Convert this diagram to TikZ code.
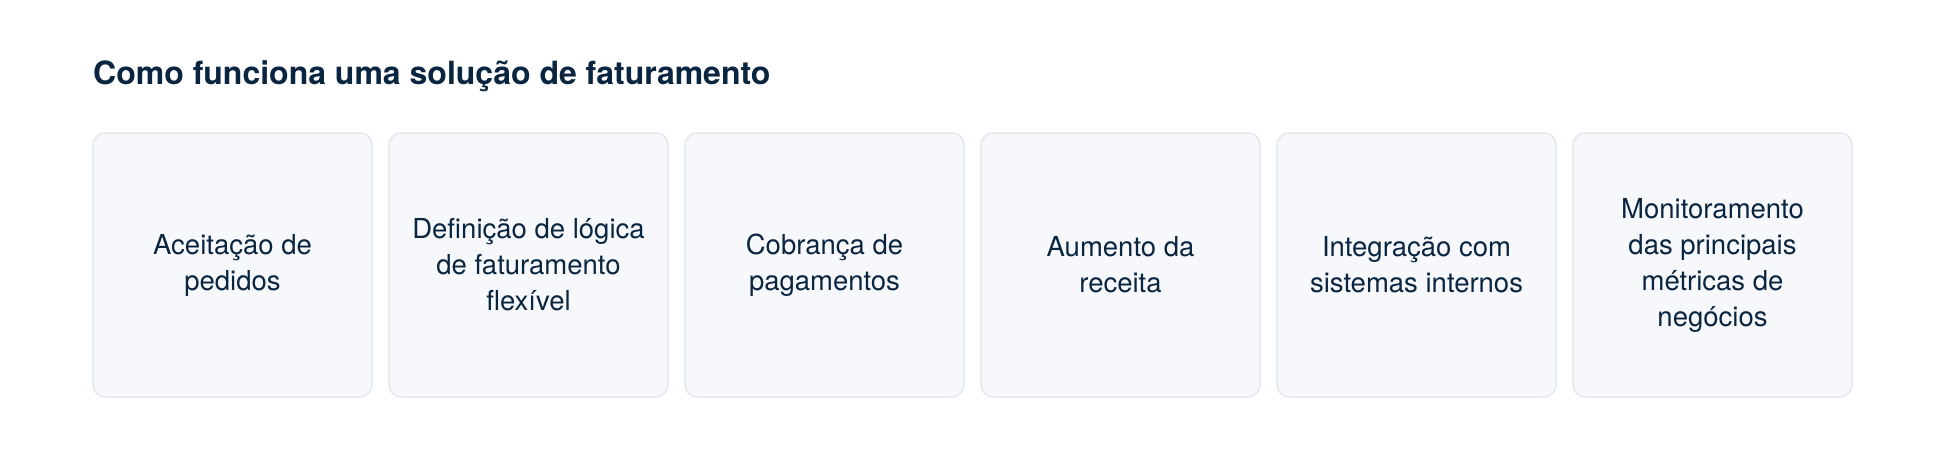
\documentclass[tikz,border=0pt]{standalone}
\usepackage{fontspec}
\setmainfont{TeX Gyre Heros}
\definecolor{navy}{HTML}{0A2540}
\definecolor{boxfill}{HTML}{F6F8FB}
\definecolor{boxline}{HTML}{E3E8EE}
\begin{document}
\begin{tikzpicture}[x=1pt,y=-1pt,
  card/.style={draw=boxline,line width=1.5pt,fill=boxfill,rounded corners=12pt},
  label/.style={text=navy,align=center,font=\fontsize{27.5}{36}\selectfont}]
\useasboundingbox[fill=white] (0,0) rectangle (1946,474);
\node[anchor=base west,text=navy,font=\fontsize{32}{36}\selectfont\bfseries,inner sep=0] (title) at (93,84) {Como funciona uma solução de faturamento};
\foreach \i/\t in {0/{Aceitação de\\pedidos},1/{Definição de lógica\\de faturamento\\flexível},2/{Cobrança de\\pagamentos},3/{Aumento da\\receita},4/{Integração com\\sistemas internos},5/{Monitoramento\\das principais\\métricas de\\negócios}}{
  \pgfmathsetmacro{\xl}{93+296*\i}
  \draw[card] (\xl,133) rectangle ++(279,264);
  \node[label] (c\i) at (\xl+139.5,265) {\t};
}
\end{tikzpicture}
\end{document}
